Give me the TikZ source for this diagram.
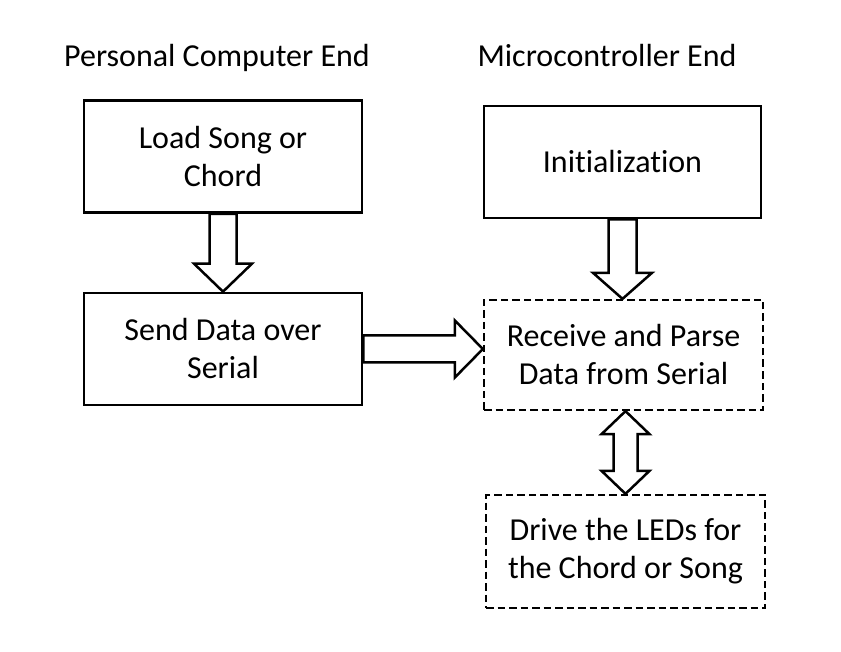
\documentclass[tikz,border=0pt]{standalone}
\usepackage{fontspec}
\setmainfont[Ligatures={NoCommon,TeX}]{Carlito}
\usetikzlibrary{calc}
% single block arrow: #1 start, #2 end, #3 shaft half width, #4 head half width, #5 head length
\newcommand{\blkarrow}[5]{%
  \coordinate (bah) at ($(#2)!#5!(#1)$);
  \draw[blk] ($(#1)!#3!90:(#2)$) -- ($(bah)!#3!-90:(#1)$) -- ($(bah)!#4!-90:(#1)$)
    -- (#2) -- ($(bah)!#4!90:(#1)$) -- ($(bah)!#3!90:(#1)$) -- ($(#1)!#3!-90:(#2)$) -- cycle;}
% double block arrow
\newcommand{\dblarrow}[5]{%
  \coordinate (bha) at ($(#1)!#5!(#2)$);
  \coordinate (bhb) at ($(#2)!#5!(#1)$);
  \draw[blk] (#1) -- ($(bha)!#4!90:(#2)$) -- ($(bha)!#3!90:(#2)$) -- ($(bhb)!#3!-90:(#1)$)
    -- ($(bhb)!#4!-90:(#1)$) -- (#2) -- ($(bhb)!#4!90:(#1)$) -- ($(bhb)!#3!90:(#1)$)
    -- ($(bha)!#3!-90:(#2)$) -- ($(bha)!#4!-90:(#2)$) -- cycle;}
\begin{document}
\begin{tikzpicture}[x=1pt,y=-1pt,
  box/.style={draw, line width=2.7pt, minimum width=278pt, minimum height=112pt, inner sep=0pt,
    align=center, font=\fontsize{32}{38}\selectfont},
  dbox/.style={box, line width=2.3pt, dash pattern=on 7.5pt off 4pt},
  blk/.style={draw, line width=2.5pt, fill=white, line join=miter},
  title/.style={font=\fontsize{32}{38}\selectfont, inner sep=0pt, anchor=base}]
\useasboundingbox (0,0) rectangle (841,652);
\node[title] (t1) at (217,67) {Personal Computer End};
\node[title] (t2) at (607,67) {Microcontroller End};
\node[box] (b1) at (223,156.5) {Load Song or\\Chord};
\node[box] (b2) at (223,349) {Send Data over\\Serial};
\node[box, minimum width=277pt] (b3) at (622.5,162) {Initialization};
\node[dbox, minimum width=279pt, minimum height=110pt] (b4) at (623.5,355) {Receive and Parse\\Data from Serial};
\node[dbox, minimum width=279pt, minimum height=113pt] (b5) at (625.5,551.5) {Drive the LEDs for\\the Chord or Song};
\coordinate (rt) at (b4.west |- b2.east);
\coordinate (d2) at (b3.south |- b4.north);
\coordinate (ds) at (b5.north |- b4.south);
\blkarrow{b1.south}{b2.north}{13.5pt}{29pt}{28pt}
\blkarrow{b2.east}{rt}{13.5pt}{28.5pt}{28pt}
\blkarrow{b3.south}{d2}{14pt}{29.5pt}{26pt}
\dblarrow{ds}{b5.north}{12pt}{24pt}{23pt}
\end{tikzpicture}
\end{document}
